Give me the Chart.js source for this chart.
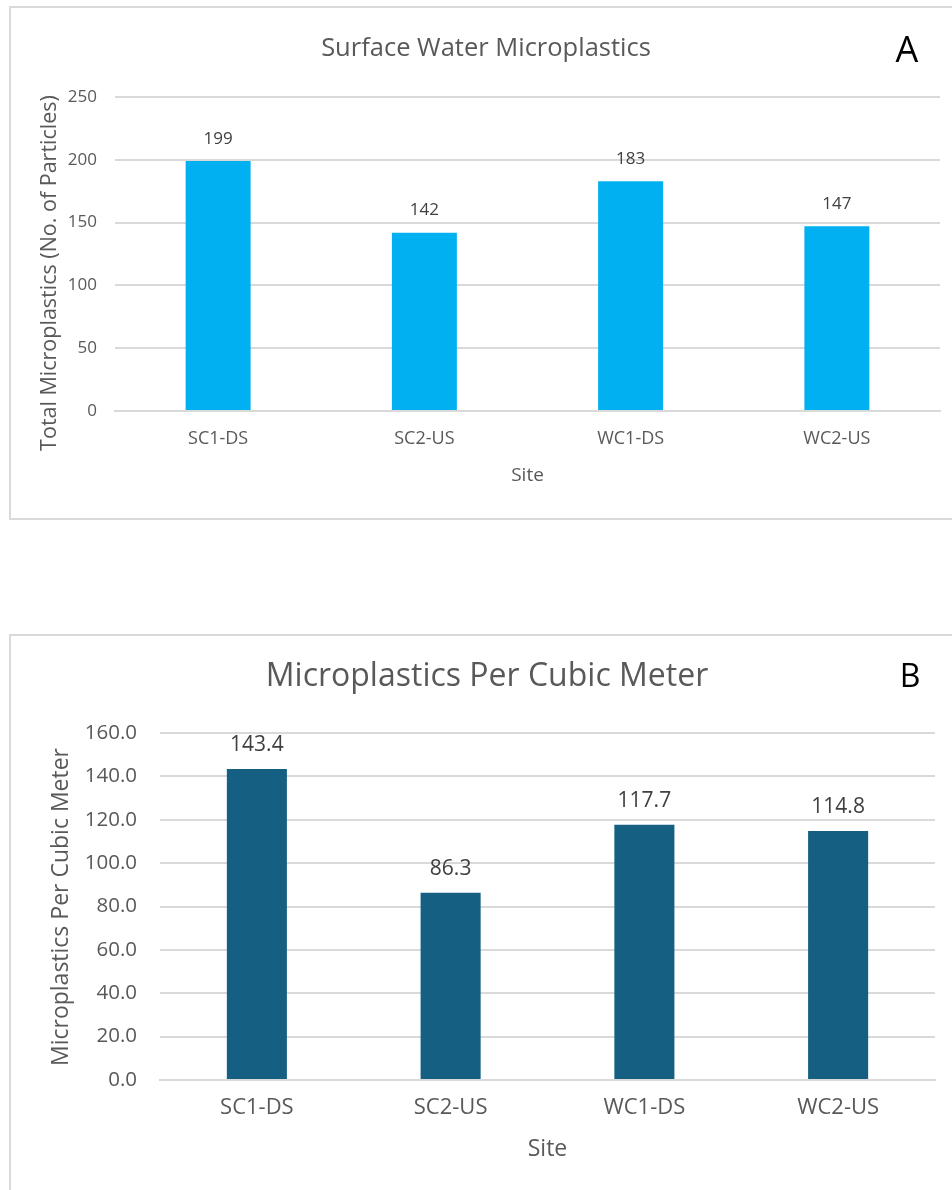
<!DOCTYPE html>
<html>
<head>
<meta charset="utf-8">
<script src="https://cdn.jsdelivr.net/npm/chart.js@4.4.0/dist/chart.umd.min.js"></script>
<style>
    body { margin: 0; background: #fff; width: 952px; height: 1190px; overflow: hidden; position: relative; font-family: "Open Sans", sans-serif; }
    .frame { position: absolute; border: 2px solid #d9d9d9; box-sizing: border-box; }
    .wrap { position: absolute; }
</style>
</head>
<body>
<div class="frame" style="left:9px; top:6px; width:960px; height:514px;"></div>
<div class="wrap" style="left:12px; top:9px; width:940px; height:507px;"><canvas id="chartA"></canvas></div>
<div class="frame" style="left:9px; top:634px; width:960px; height:600px;"></div>
<div class="wrap" style="left:12px; top:637px; width:940px; height:553px;"><canvas id="chartB"></canvas></div>
<script>
// Data
const sites = ['SC1-DS', 'SC2-US', 'WC1-DS', 'WC2-US'];
const totalParticles = [199, 142, 183, 147];
const perCubicMeter = [143.4, 86.3, 117.7, 114.8];
const ticksA = [0, 50, 100, 150, 200, 250];
const ticksB = [0, 20, 40, 60, 80, 100, 120, 140, 160];

const FONT = '"Open Sans", sans-serif';
const TEXT = '#595959';
const GRID = '#d9d9d9';

// Draws chart title, y axis title, panel letter and value labels
const decorPlugin = {
    id: 'decor',
    afterDatasetsDraw(chart, args, opts) {
        const ctx = chart.ctx;
        ctx.save();
        ctx.textAlign = 'center';
        ctx.textBaseline = 'middle';

        ctx.fillStyle = TEXT;
        ctx.font = `${opts.titleSize}px ${FONT}`;
        ctx.fillText(opts.title, opts.titleX, opts.titleY);

        // vertical axis title
        ctx.save();
        ctx.translate(opts.yTitleX, opts.yTitleY);
        ctx.rotate(-Math.PI / 2);
        ctx.font = `${opts.yTitleSize}px ${FONT}`;
        ctx.fillText(opts.yTitle, 0, 0);
        ctx.restore();

        ctx.fillStyle = '#000';
        ctx.font = `${opts.letterSize}px ${FONT}`;
        ctx.fillText(opts.letter, opts.letterX, opts.letterY);

        ctx.fillStyle = '#404040';
        ctx.font = `${opts.labelSize}px ${FONT}`;
        const meta = chart.getDatasetMeta(0);
        meta.data.forEach((bar, i) => {
            const v = chart.data.datasets[0].data[i];
            ctx.fillText(opts.fmt(v), bar.x, bar.y - opts.labelGap);
        });
        ctx.restore();
    }
};

function makeChart(id, values, color, cfg) {
    const ctx = document.getElementById(id).getContext('2d');
    return new Chart(ctx, {
        type: 'bar',
        data: {
            labels: sites,
            datasets: [{
                data: values,
                backgroundColor: color,
                categoryPercentage: 1,
                barPercentage: cfg.barPct
            }]
        },
        options: {
            responsive: true,
            maintainAspectRatio: false,
            animation: false,
            layout: { padding: { left: 0, right: cfg.padRight, top: cfg.padTop, bottom: 0 } },
            plugins: {
                legend: { display: false },
                tooltip: { enabled: false },
                decor: cfg.decor
            },
            scales: {
                x: {
                    grid: { display: false, drawTicks: false },
                    border: { display: true, color: GRID, width: 2 },
                    ticks: { color: TEXT, font: { family: FONT, size: cfg.xTickSize }, padding: cfg.xTickPad },
                    title: { display: true, text: 'Site', color: TEXT, font: { family: FONT, size: cfg.siteSize }, padding: { top: 0, bottom: cfg.sitePad } },
                    afterFit: scale => { scale.height = cfg.xHeight; }
                },
                y: {
                    min: 0,
                    max: cfg.max,
                    afterBuildTicks: scale => { scale.ticks = cfg.ticks.map(v => ({ value: v })); },
                    grid: { color: GRID, lineWidth: 2, drawTicks: false },
                    border: { display: false },
                    ticks: {
                        color: TEXT,
                        font: { family: FONT, size: cfg.yTickSize },
                        padding: cfg.yTickPad,
                        callback: cfg.yFmt
                    },
                    afterFit: scale => { scale.width = cfg.yWidth; }
                }
            }
        },
        plugins: [decorPlugin]
    });
}

makeChart('chartA', totalParticles, '#00b0f0', {
    barPct: 0.315, padRight: 12, padTop: 88, max: 250, ticks: ticksA,
    xTickSize: 18, yTickSize: 17, xTickPad: 17, siteSize: 19, sitePad: 29, xHeight: 105,
    yTickPad: 18, yWidth: 103,
    yFmt: v => String(v),
    decor: { title: 'Surface Water Microplastics', titleSize: 25.5, titleX: 474, titleY: 39.5,
        yTitle: 'Total Microplastics (No. of Particles)', yTitleSize: 21.5, yTitleX: 38, yTitleY: 264,
        letter: 'A', letterSize: 36, letterX: 895, letterY: 43,
        labelSize: 17, labelGap: 22, fmt: v => String(v) }
});

makeChart('chartB', perCubicMeter, '#156082', {
    barPct: 0.31, padRight: 17, padTop: 96, max: 160, ticks: ticksB,
    xTickSize: 22, yTickSize: 20.5, xTickPad: 15, siteSize: 23, sitePad: 27, xHeight: 110,
    yTickPad: 23, yWidth: 148,
    yFmt: v => v.toFixed(1),
    decor: { title: 'Microplastics Per Cubic Meter', titleSize: 32, titleX: 475, titleY: 40,
        yTitle: 'Microplastics Per Cubic Meter', yTitleSize: 23, yTitleX: 49, yTitleY: 270,
        letter: 'B', letterSize: 32, letterX: 898, letterY: 41,
        labelSize: 21, labelGap: 24, fmt: v => v.toFixed(1) }
});
</script>
</body>
</html>
